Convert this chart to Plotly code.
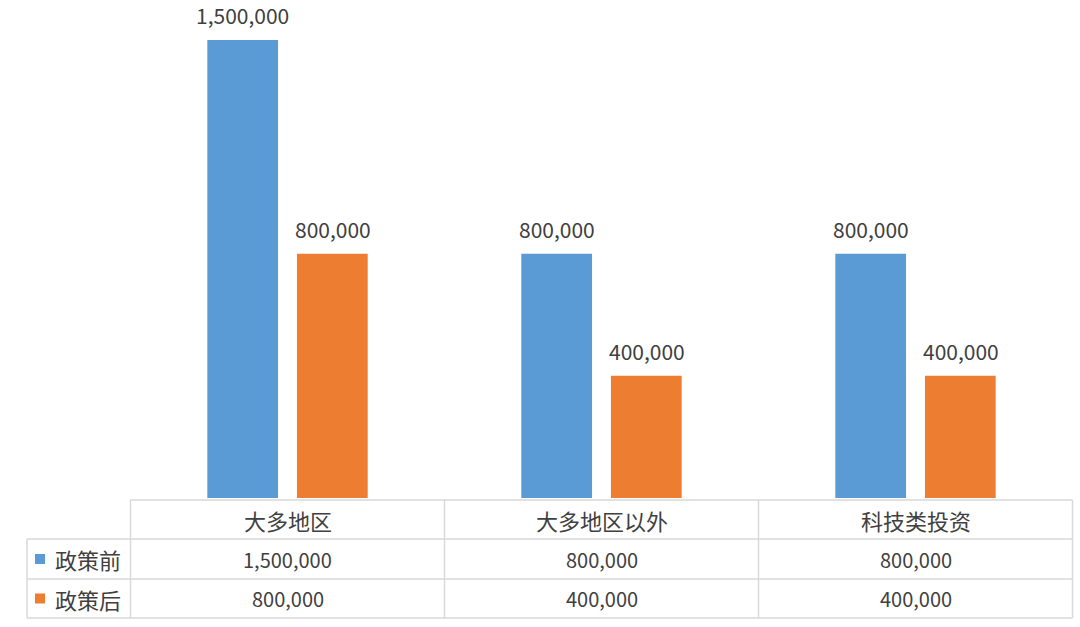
import plotly.graph_objects as go

categories = ["大多地区", "大多地区以外", "科技类投资"]
series_names = ["政策前", "政策后"]
before_values = [1500000, 800000, 800000]
after_values = [800000, 400000, 400000]
colors = ["#5B9BD5", "#ED7D31"]

W, H = 1080, 627
def px(x):
    return x / W
def py(y):
    return 1 - y / H

FONT = "Noto Sans CJK SC"
TXT = "#404040"
LINE = "#D9D9D9"

fig = go.Figure()
annotations = []
offsets = [-45, 45]
for name, vals, col, off in zip(series_names, [before_values, after_values], colors, offsets):
    fig.add_trace(go.Bar(
        x=categories, y=vals, name=name, marker=dict(color=col, line=dict(width=0)),
        hoverinfo="x+y",
    ))
    for c, v in zip(categories, vals):
        annotations.append(dict(x=c, xref="x", y=v, yref="y", text=f"{v:,}", xshift=off,
                                yshift=25, yanchor="middle", showarrow=False,
                                font=dict(family=FONT, size=21, color=TXT)))

y_bottom = 498
y_top_val = 40
ymax = before_values[0] * (y_bottom) / (y_bottom - y_top_val)

shapes = []
def hline(x0, x1, y):
    shapes.append(dict(type="line", xref="paper", yref="paper", x0=px(x0), x1=px(x1),
                       y0=py(y), y1=py(y), line=dict(color=LINE, width=1.5)))
def vline(x, y0, y1):
    shapes.append(dict(type="line", xref="paper", yref="paper", x0=px(x), x1=px(x),
                       y0=py(y0), y1=py(y1), line=dict(color=LINE, width=1.5)))

x_left, x_tab, x_right = 27, 130.5, 1072.5
rows_y = [500, 539, 579, 618]
col_w = (x_right - x_tab) / len(categories)
hline(x_tab, x_right, rows_y[0])
for yy in rows_y[1:]:
    hline(x_left, x_right, yy)
for i in range(len(categories) + 1):
    vline(x_tab + i * col_w, rows_y[0], rows_y[3])
vline(x_left, rows_y[1], rows_y[3])

for c in categories:
    annotations.append(dict(x=c, xref="x", y=py((rows_y[0] + rows_y[1]) / 2), yref="paper",
                            yanchor="middle", text=c, showarrow=False,
                            font=dict(family=FONT, size=22, color=TXT)))
for r, (name, vals, col) in enumerate(zip(series_names, [before_values, after_values], colors)):
    yc = (rows_y[r + 1] + rows_y[r + 2]) / 2
    for c, v in zip(categories, vals):
        annotations.append(dict(x=c, xref="x", y=py(yc), yref="paper", yanchor="middle",
                                text=f"{v:,}", showarrow=False,
                                font=dict(family=FONT, size=20, color=TXT)))
    shapes.append(dict(type="rect", xref="paper", yref="paper", x0=px(35), x1=px(45),
                       y0=py(yc - 5), y1=py(yc + 5), fillcolor=col, line=dict(width=0)))
    annotations.append(dict(x=px(53), xref="paper", y=py(yc), yref="paper", yanchor="middle",
                            text=name, xanchor="left", showarrow=False,
                            font=dict(family=FONT, size=22, color=TXT)))

fig.update_layout(
    width=W, height=H, margin=dict(l=0, r=0, t=0, b=0),
    paper_bgcolor="white", plot_bgcolor="white",
    barmode="group", bargap=0.429, bargroupgap=0.211,
    showlegend=False,
    xaxis=dict(domain=[px(x_tab), px(x_right)], showticklabels=False, showgrid=False,
               zeroline=False, showline=False, ticks=""),
    yaxis=dict(domain=[py(y_bottom), 1], range=[0, ymax], visible=False),
    shapes=shapes, annotations=annotations,
)
fig.write_html("out.html")
